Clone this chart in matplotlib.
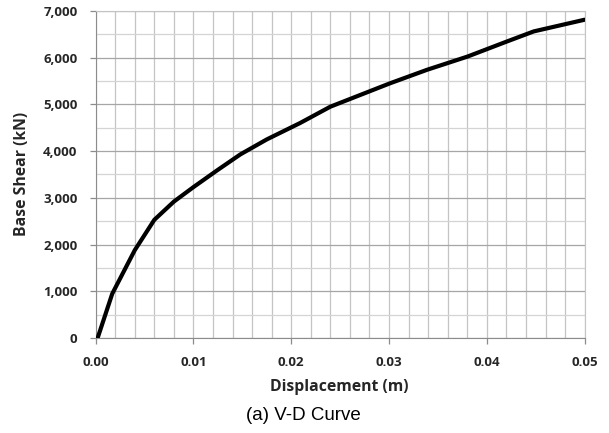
import numpy as np
import matplotlib.pyplot as plt
from matplotlib.ticker import MultipleLocator, FuncFormatter

# curva V-D
desplazamiento = [0.0002, 0.0017, 0.004, 0.006, 0.008, 0.010, 0.0125, 0.0148,
                  0.0175, 0.0209, 0.024, 0.0301, 0.0339, 0.038, 0.042, 0.0448, 0.050]
cortante = [0, 950, 1880, 2530, 2920, 3230, 3600, 3930,
            4250, 4600, 4950, 5450, 5740, 6020, 6340, 6560, 6810]

fig = plt.figure(figsize=(6.09, 4.33), dpi=100)
ax = fig.add_axes([0.157, 0.219, 0.803, 0.756])

ax.plot(desplazamiento, cortante, color='black', lw=3.0, solid_capstyle='round',
        solid_joinstyle='round', zorder=3)

ax.set_xlim(0, 0.05)
ax.set_ylim(0, 7000)
ax.xaxis.set_major_locator(MultipleLocator(0.01))
ax.xaxis.set_minor_locator(MultipleLocator(0.002))
ax.yaxis.set_major_locator(MultipleLocator(1000))
ax.yaxis.set_minor_locator(MultipleLocator(500))
ax.yaxis.set_major_formatter(FuncFormatter(lambda v, p: f'{int(v):,}'))
ax.xaxis.set_major_formatter(FuncFormatter(lambda v, p: f'{v:.2f}'))

ax.grid(True, which='major', axis='y', color='#a6a6a6', lw=0.9)
ax.grid(True, which='minor', axis='y', color='#d4d4d4', lw=0.9)
ax.grid(True, which='both', axis='x', color='#c4c4c4', lw=0.9)
ax.set_axisbelow(True)

for s in ['top', 'right']:
    ax.spines[s].set_color('#c4c4c4')
for s in ['left', 'bottom']:
    ax.spines[s].set_color('#8c8c8c')

ax.tick_params(which='major', length=4, color='#8c8c8c', width=0.9)
ax.tick_params(which='minor', length=0)
ax.tick_params(axis='x', pad=9)
ax.tick_params(axis='y', pad=9)
for lbl in ax.get_xticklabels() + ax.get_yticklabels():
    lbl.set_fontfamily('Open Sans')
    lbl.set_fontweight('bold')
    lbl.set_fontsize(9.5)
    lbl.set_color('#262626')

fig.text(339 / 609, 1 - 387 / 433, 'Displacement (m)', fontfamily='Open Sans',
         fontweight='bold', fontsize=11.3, ha='center', va='center', color='#262626')
fig.text(22 / 609, 1 - 174 / 433, 'Base Shear (kN)', fontfamily='Open Sans',
         fontweight='bold', fontsize=11.3, ha='center', va='center', rotation=90,
         color='#262626')

fig.text(303 / 609, 1 - 416 / 433, '(a) V-D Curve', fontfamily='Liberation Sans',
         fontsize=13.5, ha='center', va='center')

fig.savefig('out.png', dpi=100)
